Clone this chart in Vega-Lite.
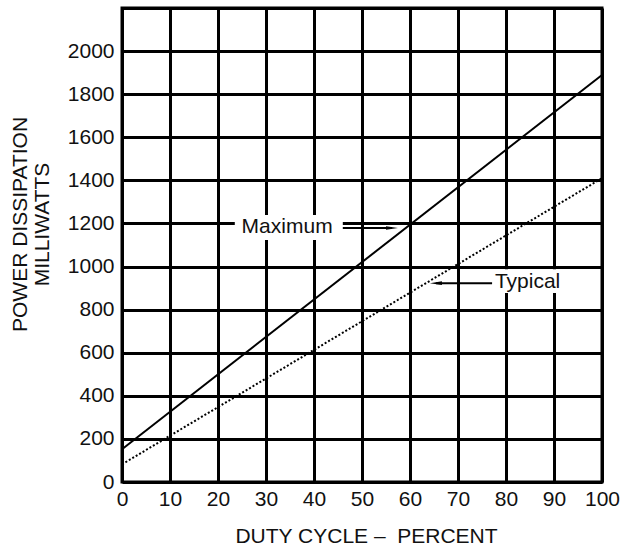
{
  "$schema": "https://vega.github.io/schema/vega-lite/v6.json",
  "width": 480,
  "height": 474,
  "autosize": {"type": "none"},
  "padding": {"left": 122, "top": 8, "right": 32, "bottom": 64},
  "background": "white",
  "config": {
    "font": "Liberation Sans",
    "view": {"stroke": "black", "strokeWidth": 3},
    "axis": {
      "grid": true,
      "gridColor": "black",
      "gridWidth": 3,
      "gridOpacity": 1,
      "domain": false,
      "ticks": false,
      "labelFont": "Liberation Sans",
      "labelFontSize": 21,
      "labelColor": "#111",
      "labelFlush": false,
      "titleFont": "Liberation Sans",
      "titleFontSize": 21,
      "titleFontWeight": "normal",
      "titleColor": "#111"
    }
  },
  "datasets": {
    "lines": [
      {"series": "Maximum", "x": 0, "y": 152},
      {"series": "Maximum", "x": 100, "y": 1889},
      {"series": "Typical", "x": 0, "y": 82},
      {"series": "Typical", "x": 100, "y": 1410}
    ],
    "boxes": [
      {"label": "Maximum", "x1": 23.5, "x2": 46, "y1": 1123, "y2": 1239},
      {"label": "Typical", "x1": 77.3, "x2": 92.3, "y1": 877, "y2": 988}
    ],
    "arrows": [
      {"label": "Maximum", "x1": 46, "x2": 56.25, "y": 1179, "hx": 56.25, "dir": "M-1,-0.3L1,0L-1,0.3Z"},
      {"label": "Typical", "x1": 65.4, "x2": 77.1, "y": 923, "hx": 65.4, "dir": "M1,-0.3L-1,0L1,0.3Z"}
    ],
    "labels": [
      {"label": "Maximum", "x": 34.4, "y": 1155},
      {"label": "Typical", "x": 84.5, "y": 900}
    ]
  },
  "encoding": {
    "x": {
      "type": "quantitative",
      "scale": {"domain": [0, 100], "nice": false},
      "axis": {
        "values": [0, 10, 20, 30, 40, 50, 60, 70, 80, 90, 100],
        "title": "DUTY CYCLE –\u00a0 PERCENT",
        "labelPadding": 6,
        "titleBaseline": "alphabetic",
        "titleX": 244,
        "titleY": 60,
        "titleAnchor": null
      }
    },
    "y": {
      "type": "quantitative",
      "scale": {"domain": [0, 2200], "nice": false},
      "axis": {
        "values": [0, 200, 400, 600, 800, 1000, 1200, 1400, 1600, 1800, 2000, 2200],
        "labelExpr": "datum.value == 2200 ? '' : datum.label",
        "format": "d",
        "labelPadding": 8,
        "title": ["POWER DISSIPATION", "MILLIWATTS"],
        "titleAngle": -90,
        "titleAlign": "center",
        "titleBaseline": "top",
        "titleLineHeight": 22,
        "titleX": -113,
        "titleY": 216
      }
    }
  },
  "layer": [
    {
      "data": {"name": "boxes"},
      "mark": {"type": "rect", "fill": "white", "stroke": null},
      "encoding": {
        "x": {"field": "x1", "type": "quantitative"},
        "x2": {"field": "x2"},
        "y": {"field": "y1", "type": "quantitative"},
        "y2": {"field": "y2"}
      }
    },
    {
      "data": {"name": "lines"},
      "transform": [{"filter": "datum.series == 'Maximum'"}],
      "mark": {"type": "line", "color": "black", "strokeWidth": 2},
      "encoding": {
        "x": {"field": "x", "type": "quantitative"},
        "y": {"field": "y", "type": "quantitative"}
      }
    },
    {
      "data": {"name": "lines"},
      "transform": [{"filter": "datum.series == 'Typical'"}],
      "mark": {"type": "line", "color": "black", "strokeWidth": 2, "strokeDash": [2, 2]},
      "encoding": {
        "x": {"field": "x", "type": "quantitative"},
        "y": {"field": "y", "type": "quantitative"}
      }
    },
    {
      "data": {"name": "arrows"},
      "mark": {"type": "rule", "color": "black", "strokeWidth": 2},
      "encoding": {
        "x": {"field": "x1", "type": "quantitative"},
        "x2": {"field": "x2"},
        "y": {"field": "y", "type": "quantitative"}
      }
    },
    {
      "data": {"name": "arrows"},
      "mark": {"type": "point", "filled": true, "color": "black", "opacity": 1, "size": 144},
      "encoding": {
        "x": {"field": "hx", "type": "quantitative"},
        "y": {"field": "y", "type": "quantitative"},
        "shape": {"field": "dir", "type": "nominal", "scale": null, "legend": null}
      }
    },
    {
      "data": {"name": "labels"},
      "mark": {"type": "text", "font": "Liberation Sans", "fontSize": 21, "color": "#111", "align": "center", "baseline": "alphabetic"},
      "encoding": {
        "x": {"field": "x", "type": "quantitative"},
        "y": {"field": "y", "type": "quantitative"},
        "text": {"field": "label"}
      }
    }
  ]
}
